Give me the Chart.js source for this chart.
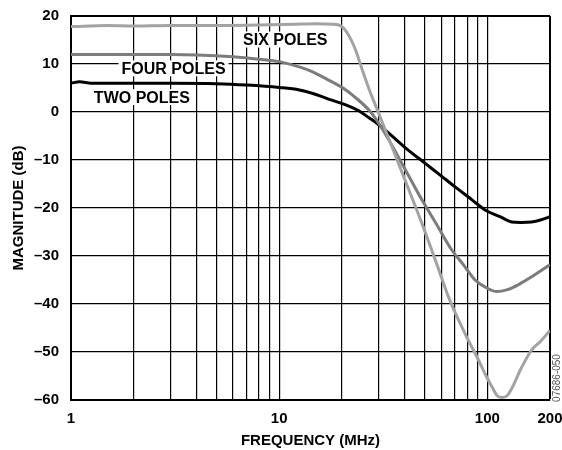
<!DOCTYPE html>
<html lang="en">
<head>
  <meta charset="UTF-8" />
  <title>Magnitude vs Frequency</title>
  <script src="https://cdn.jsdelivr.net/npm/chart.js"></script>
  <style>
    body { margin: 0; background: #fff; }
    #wrap { width: 562px; height: 450px; }
  </style>
</head>
<body>
<div id="wrap"><canvas id="magChart" width="562" height="450"></canvas></div>
<script>
// frequency (MHz) / magnitude (dB)
const freqTwo = [1, 1.1, 1.25, 1.5, 2, 3, 5, 7, 10, 12.5, 14.4, 17, 20.9, 24, 27, 30, 33.6, 40, 50.3, 60, 70, 85, 97.5, 115, 130.7, 145, 163, 180, 200];
const magTwo  = [6, 6.3, 6.0, 6, 6, 6, 5.9, 5.6, 5.1, 4.6, 3.9, 2.8, 1.5, 0.3, -1.2, -2.6, -4.4, -7.3, -10.7, -13.3, -15.6, -18.4, -20.4, -21.8, -22.9, -23, -22.9, -22.5, -21.8];

const freqFour = [1, 2, 3, 4, 6, 8, 10, 12.5, 14.4, 17, 20.9, 24, 27, 30, 33.6, 40, 48.5, 57, 67.5, 77, 87.3, 98, 110.8, 125, 140.7, 165, 200];
const magFour  = [12, 12, 12, 11.9, 11.5, 11, 10.5, 9.4, 8.4, 6.8, 4.6, 2.5, 0.4, -2.3, -5.8, -11.7, -18.3, -23.4, -28.75, -31.9, -35, -36.5, -37.4, -37, -36, -34.2, -31.8];

const freqSix = [1, 1.5, 2, 3, 5, 8, 12, 15, 18, 19.7, 21.2, 23.3, 24.8, 27.5, 30.1, 34.8, 40, 48.5, 56, 66, 78, 90, 99, 106, 112, 118, 125, 131, 145, 163, 180, 200];
const magSix  = [17.8, 18, 17.9, 18, 18, 18.1, 18.3, 18.4, 18.3, 18.0, 16.5, 12.9, 9.4, 3.9, -0.3, -7.2, -13.9, -23.2, -30.6, -39.2, -46.1, -51.4, -55.1, -57.5, -59.2, -59.5, -59, -57.6, -53.5, -49.6, -47.8, -45.5];

const xTicks = [1, 2, 3, 4, 5, 6, 7, 8, 9, 10, 20, 30, 40, 50, 60, 70, 80, 90, 100, 200];
const xLabelled = [1, 10, 100, 200];

// curve labels: text and anchor (MHz, dB)
const labelText = ['SIX POLES', 'FOUR POLES', 'TWO POLES'];
const labelFreq = [10.7, 3.11, 2.19];
const labelMag  = [15.1, 9.1, 3.1];

const pts = (xs, ys) => xs.map((x, i) => ({ x: x, y: ys[i] }));
const FONT = '"Liberation Sans", Arial, sans-serif';

const curveLabels = {
  id: 'curveLabels',
  beforeDatasetsDraw(chart) {
    const { ctx, scales: { x, y } } = chart;
    ctx.save();
    ctx.font = 'bold 16px ' + FONT;
    ctx.textAlign = 'center';
    ctx.textBaseline = 'middle';
    labelText.forEach((t, i) => {
      const px = x.getPixelForValue(labelFreq[i]);
      const py = y.getPixelForValue(labelMag[i]);
      const w = ctx.measureText(t).width;
      ctx.fillStyle = '#fff';
      ctx.fillRect(px - w / 2 - 3, py - 8, w + 6, 16);
      ctx.fillStyle = '#000';
      ctx.fillText(t, px, py + 1);
    });
    ctx.restore();
  },
  afterDraw(chart) {
    const ctx = chart.ctx;
    ctx.save();
    ctx.font = '10px ' + FONT;
    ctx.fillStyle = '#555';
    ctx.textAlign = 'center';
    ctx.textBaseline = 'middle';
    ctx.translate(557, 378);
    ctx.rotate(-Math.PI / 2);
    ctx.fillText('07686-050', 0, 0);
    ctx.restore();
  }
};

const line = (data, color) => ({
  data: data,
  borderColor: color,
  borderWidth: 3,
  pointRadius: 0,
  fill: false,
  cubicInterpolationMode: 'monotone'
});

new Chart(document.getElementById('magChart').getContext('2d'), {
  type: 'line',
  data: {
    datasets: [
      line(pts(freqSix, magSix), '#a3a3a3'),
      line(pts(freqFour, magFour), '#7c7c7c'),
      line(pts(freqTwo, magTwo), '#000000')
    ]
  },
  options: {
    responsive: false,
    animation: false,
    layout: { padding: { left: 0, right: 12, top: 16, bottom: 0 } },
    plugins: { legend: { display: false }, tooltip: { enabled: false } },
    scales: {
      x: {
        type: 'logarithmic',
        min: 1,
        max: 200,
        afterBuildTicks: s => { s.ticks = xTicks.map(v => ({ value: v })); },
        afterFit: s => { s.height = 50; s.paddingLeft = 0; s.paddingRight = 0; },
        ticks: {
          autoSkip: false,
          maxRotation: 0,
          padding: 10,
          color: '#000',
          font: { family: FONT, size: 15, weight: 'bold' },
          callback: v => xLabelled.includes(v) ? String(v) : ''
        },
        grid: {
          color: '#000',
          lineWidth: c => (c.tick && c.tick.value === 200) ? 2 : 1.2,
          drawTicks: false
        },
        border: { color: '#000', width: 2 },
        title: {
          display: true,
          text: 'FREQUENCY (MHz)',
          color: '#000',
          font: { family: FONT, size: 15, weight: 'bold' },
          padding: { top: 0, bottom: 0 }
        }
      },
      y: {
        min: -60,
        max: 20,
        afterFit: s => { s.width = 71; s.paddingTop = 0; s.paddingBottom = 0; },
        ticks: {
          stepSize: 10,
          padding: 12,
          color: '#000',
          font: { family: FONT, size: 15, weight: 'bold' },
          callback: v => v < 0 ? '\u2013' + Math.abs(v) : String(v)
        },
        grid: {
          color: '#000',
          lineWidth: c => (c.tick && c.tick.value === 20) ? 2 : 1.2,
          drawTicks: false
        },
        border: { color: '#000', width: 2 },
        title: {
          display: true,
          text: 'MAGNITUDE (dB)',
          color: '#000',
          font: { family: FONT, size: 15, weight: 'bold' },
          padding: { top: 10, bottom: 0 }
        }
      }
    }
  },
  plugins: [curveLabels]
});
</script>
</body>
</html>
